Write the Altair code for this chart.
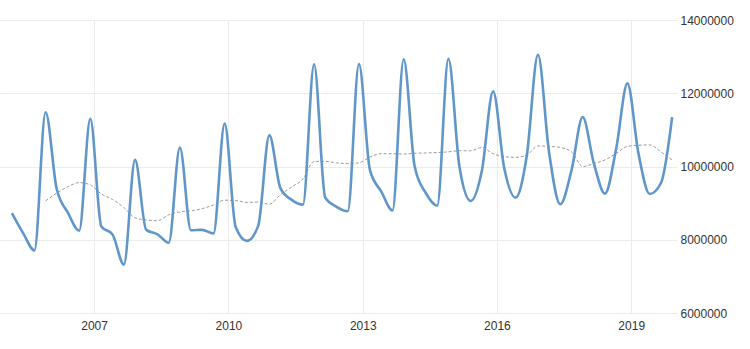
import altair as alt
import pandas as pd

# Quarterly observations, Q1 2005 .. Q4 2019
quarters = pd.date_range(start="2005-03-01", periods=60, freq="3MS").strftime("%Y-%m-%d").tolist()

values = [
    8730000, 8180000, 7710000, 11480000,
    9400000, 8740000, 8250000, 11300000,
    8360000, 8140000, 7320000, 10180000,
    8270000, 8150000, 7920000, 10520000,
    8260000, 8270000, 8170000, 11170000,
    8350000, 7970000, 8380000, 10850000,
    9410000, 9090000, 8960000, 12790000,
    9150000, 8900000, 8780000, 12800000,
    9900000, 9320000, 8800000, 12930000,
    10000000, 9270000, 8930000, 12940000,
    10000000, 9060000, 9900000, 12050000,
    9950000, 9150000, 10300000, 13050000,
    10400000, 8970000, 9900000, 11350000,
    10100000, 9260000, 10500000, 12270000,
    10360000, 9250000, 9550000, 11350000,
]

# Trailing average line (from the 4th quarter on)
avg_values = [
    9060000, 9270000, 9450000, 9560000, 9500000, 9250000, 9100000, 8880000,
    8600000, 8540000, 8520000, 8680000, 8760000, 8790000, 8850000, 8950000,
    9080000, 9070000, 9020000, 9030000, 8970000, 9230000, 9440000, 9660000,
    10140000, 10140000, 10100000, 10080000, 10100000, 10260000, 10350000, 10350000,
    10340000, 10360000, 10370000, 10380000, 10400000, 10430000, 10430000, 10520000,
    10350000, 10270000, 10250000, 10310000, 10560000, 10550000, 10520000, 10400000,
    10000000, 10080000, 10180000, 10360000, 10550000, 10580000, 10590000, 10400000,
    10180000,
]

y_ticks = [6000000, 8000000, 10000000, 12000000, 14000000]
x_ticks = ["2007-01-01", "2010-01-01", "2013-01-01", "2016-01-01", "2019-01-01"]

main_df = pd.DataFrame({"date": quarters, "value": values})
avg_df = pd.DataFrame({"date": quarters[3:], "value": avg_values})

FONT = "Liberation Sans"
GRID = "#ebebeb"
TEXT = "#333333"

x_enc = alt.X(
    "date:T",
    scale=alt.Scale(domain=["2004-11-24", "2019-12-08"]),
    axis=alt.Axis(
        values=x_ticks,
        format="%Y",
        title=None,
        domain=False,
        ticks=False,
        grid=True,
        gridColor=GRID,
        gridWidth=1,
        labelPadding=7,
        labelFont=FONT,
        labelFontSize=12,
        labelColor=TEXT,
        labelFlush=False,
    ),
)

y_scale = alt.Scale(domain=[6000000, 14000000], nice=False)

main = alt.Chart(main_df).mark_line(
    color="#6196c9", strokeWidth=2.6, interpolate="monotone"
).encode(
    x=x_enc,
    y=alt.Y(
        "value:Q",
        scale=y_scale,
        axis=alt.Axis(
            orient="right",
            values=y_ticks,
            format="d",
            title=None,
            domain=False,
            ticks=True,
            tickSize=4,
            tickColor=GRID,
            grid=True,
            gridColor=GRID,
            gridWidth=1,
            labelPadding=3,
            labelFont=FONT,
            labelFontSize=12,
            labelColor=TEXT,
            labelBaseline="middle",
        ),
    ),
)

avg = alt.Chart(avg_df).mark_line(
    color="#9a9a9a", strokeWidth=1, strokeDash=[3, 2], interpolate="monotone"
).encode(
    x="date:T",
    y=alt.Y("value:Q", scale=y_scale),
)

chart = (
    alt.layer(avg, main)
    .properties(
        width=673,
        height=293,
        autosize=alt.AutoSizeParams(type="none"),
        padding={"left": 0, "top": 20, "right": 77, "bottom": 36},
        background="white",
    )
    .configure_view(stroke=None)
)

chart.save("out.html", embed_options={"renderer": "svg", "actions": False})
